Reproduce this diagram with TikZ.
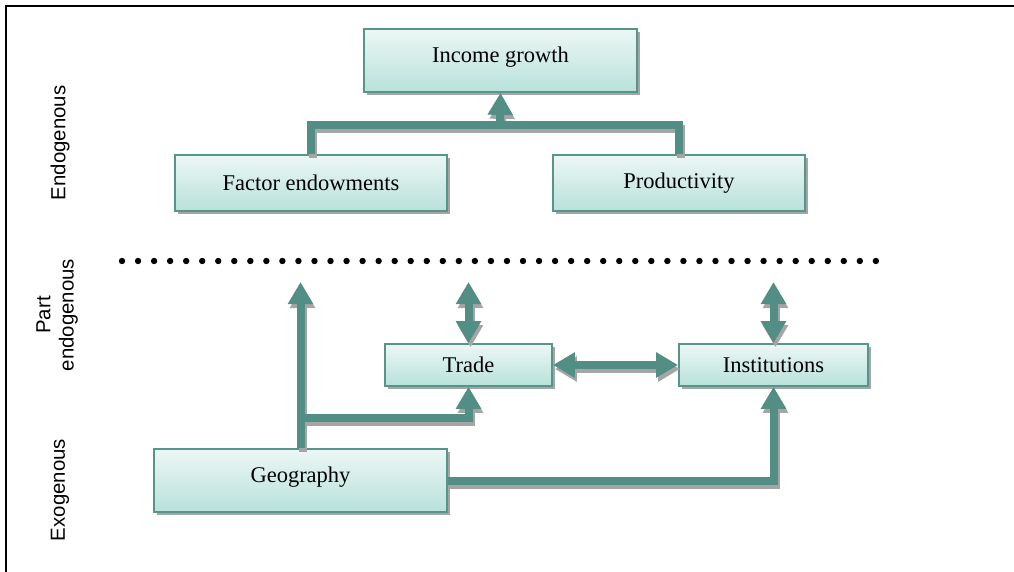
\documentclass[tikz,border=0pt]{standalone}
\usepackage{fontspec}
\setmainfont{Liberation Serif}
\setsansfont{Liberation Sans}
\usetikzlibrary{arrows.meta,shadows,positioning}

\definecolor{boxline}{RGB}{87,148,138}
\definecolor{boxtop}{RGB}{236,247,245}
\definecolor{boxbot}{RGB}{184,225,218}
\definecolor{linkteal}{RGB}{82,142,132}
\definecolor{shadowgray}{RGB}{165,165,165}

\begin{document}
\begin{tikzpicture}[x=0.025cm,y=-0.025cm,
                    >={Triangle[width=0.6cm,length=0.55cm]},
                    box/.style={rectangle,draw=boxline,line width=1.1pt,top color=boxtop,bottom color=boxbot,
                                drop shadow={shadow xshift=0.07cm,shadow yshift=-0.07cm,fill=shadowgray,opacity=1},
                                font=\fontsize{16}{19}\selectfont},
                    link/.style={line width=0.2cm},
                    side/.style={rotate=90,align=center,font=\sffamily\fontsize{14.5}{16.5}\selectfont}]
\useasboundingbox (0,0) rectangle (1014,572);
\draw[line width=1.4pt] (6,572) -- (6,6) -- (1014,6);

% boxes
\node[box,minimum width=6.83cm,minimum height=1.58cm,text depth=0.3cm] (inc) at (500.5,60.5) {Income growth};
\node[box,minimum width=6.8cm,minimum height=1.4cm] (fact) at (311,183) {Factor endowments};
\node[box,minimum width=6.3cm,minimum height=1.4cm] (prod) at (679,183) {Productivity};
\node[box,minimum width=4.18cm,minimum height=1.05cm] (trade) at (468.5,365) {Trade};
\node[box,minimum width=4.73cm,minimum height=1.05cm] (inst) at (773.5,365) {Institutions};
\node[box,minimum width=7.33cm,minimum height=1.58cm,text depth=0.3cm] (geo) at (300.5,480.5) {Geography};

% side labels
\node[side] (endo) at (60,143) {Endogenous};
\node[side] (part) at (57,315) {Part\\endogenous};
\node[side] (exo) at (60,490) {Exogenous};

% dotted divider
\foreach \i in {0,...,47}
   \fill (122+16.04*\i,261) circle (0.08cm);

\coordinate (join) at (500,125);
\coordinate (rim) at (0,282);
\coordinate (fork) at (0,418);

% connectors, shadow pass first
\foreach \c/\s in {shadowgray/1,linkteal/0}
{
 \begin{scope}[link,draw=\c,transform canvas={shift={(\s*0.05cm,-\s*0.1cm)}}]
  \draw (fact.north) |- (join) -| (prod.north);
  \draw[->] (join) -- (inc.south);
  \draw[->] (geo.north) -- (geo.north |- rim);
  \draw[->] (geo.north |- fork) -| (trade.south);
  \draw[<->] (trade.north) -- (trade.north |- rim);
  \draw[<->] (inst.north) -- (inst.north |- rim);
  \draw[<->] (trade.east) -- (inst.west);
  \draw[->] (geo.east) -| (inst.south);
 \end{scope}
}

\end{tikzpicture}
\end{document}
